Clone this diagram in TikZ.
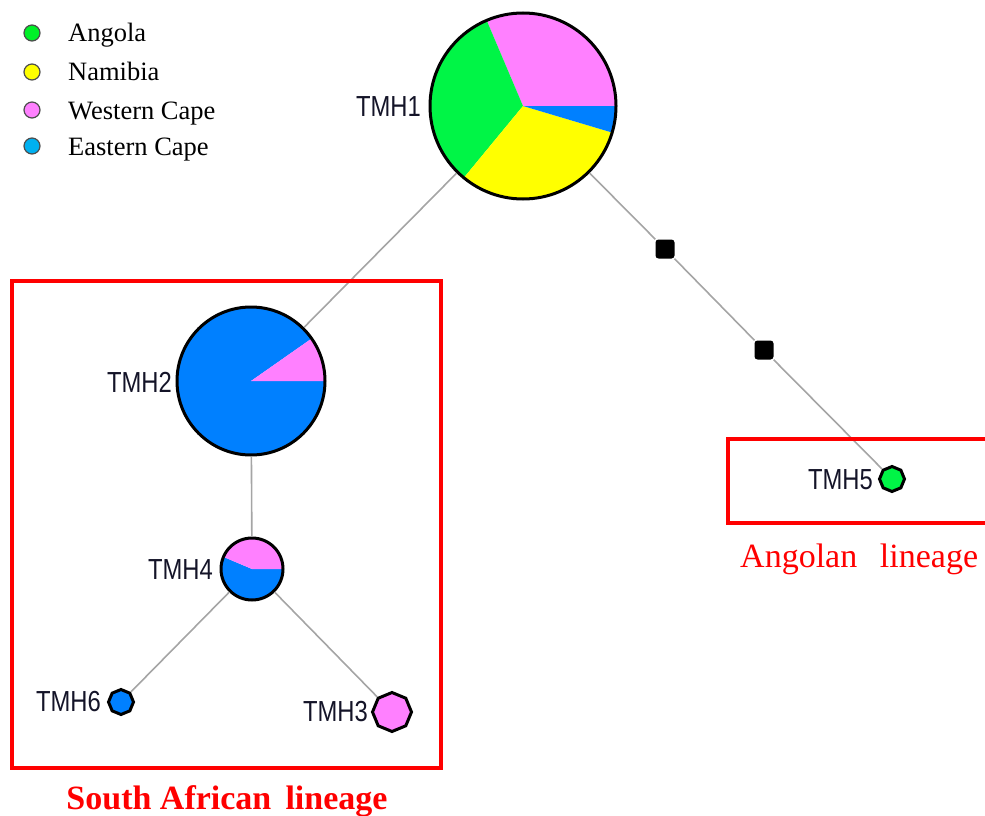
\documentclass[tikz,border=0pt]{standalone}
\usepackage{fontspec}
\setmainfont{Liberation Serif}
\newfontfamily\labfont{Liberation Sans}
\usetikzlibrary{shapes.geometric}
\definecolor{cgreen}{RGB}{0,245,70}
\definecolor{cyellow}{RGB}{255,255,0}
\definecolor{cpink}{RGB}{255,128,255}
\definecolor{cblue}{RGB}{0,128,255}
\definecolor{lgreen}{RGB}{0,240,40}
\definecolor{lblue}{RGB}{0,176,240}
\definecolor{cedge}{RGB}{165,165,165}
\definecolor{cred}{RGB}{255,0,0}
\definecolor{labtext}{RGB}{20,20,40}
\tikzset{
  hap/.style={circle, draw=black, line width=3pt, inner sep=0pt, minimum size=#1},
  smallhap/.style={regular polygon, regular polygon sides=8, draw=black, line width=3pt, inner sep=0pt, minimum size=#1},
  edge/.style={draw=cedge, line width=1.6pt},
  mv/.style={rectangle, rounded corners=3pt, fill=black, minimum size=19pt, inner sep=0pt},
  lab/.style={anchor=east, inner sep=0pt, text=labtext, font=\labfont\fontsize{29}{29}\selectfont},
  legdot/.style={circle, draw=black!70, line width=1.2pt, minimum size=16pt, inner sep=0pt},
  legtxt/.style={anchor=base west, inner sep=0pt, font=\fontsize{26.5}{26.5}\selectfont},
  redbox/.style={draw=cred, line width=4pt},
}
\newcommand{\piewedge}[5]{\fill[#1] (#2) -- ++(#3:#5) arc[start angle=#3, end angle=#4, radius=#5] -- cycle;}
\begin{document}
\begin{tikzpicture}[x=1pt,y=1pt]
\useasboundingbox (0,0) rectangle (985,-816);
\clip (0,0) rectangle (985,-816);
% coordinates of haplotypes
\coordinate (c1) at (523,-106);
\coordinate (c2) at (251,-381);
\coordinate (c4) at (252,-569);
\coordinate (c5) at (892,-479);
\coordinate (c6) at (121,-702);
\coordinate (c3) at (392,-712);
% pies
\piewedge{cpink}{c1}{0}{113}{93}
\piewedge{cgreen}{c1}{113}{230.5}{93}
\piewedge{cyellow}{c1}{230.5}{343.4}{93}
\piewedge{cblue}{c1}{343.4}{360}{93}
\piewedge{cblue}{c2}{35}{360}{74}
\piewedge{cpink}{c2}{0}{35}{74}
\piewedge{cblue}{c4}{157}{360}{31}
\piewedge{cpink}{c4}{0}{157}{31}
% haplotype outlines
\node[hap=186pt] (t1) at (c1) {};
\node[hap=148pt] (t2) at (c2) {};
\node[hap=62pt] (t4) at (c4) {};
\node[smallhap=25pt, fill=cgreen, rotate=22.5] (t5) at (c5) {};
\node[smallhap=25pt, fill=cblue, rotate=22.5] (t6) at (c6) {};
\node[smallhap=39pt, fill=cpink, rotate=22.5] (t3) at (c3) {};
% median vectors
\node[mv] (m1) at (665,-249) {};
\node[mv] (m2) at (764,-350) {};
% edges
\draw[edge] (t1) -- (t2);
\draw[edge] (t1) -- (m1) -- (m2) -- (t5);
\draw[edge] (t2) -- (t4);
\draw[edge] (t4) -- (t6);
\draw[edge] (t4) -- (t3);
% labels
\node[lab] (l1) at (421,-107) {\scalebox{0.82}[1]{TMH1}};
\node[lab] (l2) at (172,-382) {\scalebox{0.82}[1]{TMH2}};
\node[lab] (l4) at (213,-570) {\scalebox{0.82}[1]{TMH4}};
\node[lab] (l5) at (873,-480) {\scalebox{0.82}[1]{TMH5}};
\node[lab] (l6) at (101,-702) {\scalebox{0.82}[1]{TMH6}};
\node[lab] (l3) at (368,-712) {\scalebox{0.82}[1]{TMH3}};
% boxes
\draw[redbox] (12,-281) rectangle (441,-768);
\draw[redbox] (728,-439) rectangle (1000,-523);
\node[anchor=base west, inner sep=0pt, text=cred, font=\fontsize{34}{34}\selectfont] (al) at (740,-567) {Angolan\ \ \,lineage};
\node[anchor=base, inner sep=0pt, text=cred, font=\bfseries\fontsize{34}{34}\selectfont] (sal) at (227,-809) {South African\ \,lineage};
% legend
\node[legdot, fill=lgreen] (d1) at (32,-33) {};
\node[legdot, fill=cyellow] (d2) at (32,-72) {};
\node[legdot, fill=cpink] (d3) at (32,-110) {};
\node[legdot, fill=lblue] (d4) at (32,-146) {};
\node[legtxt] (g1) at (68,-42) {Angola};
\node[legtxt] (g2) at (68,-81) {Namibia};
\node[legtxt] (g3) at (68,-119) {Western Cape};
\node[legtxt] (g4) at (68,-155) {Eastern Cape};
\end{tikzpicture}
\end{document}
